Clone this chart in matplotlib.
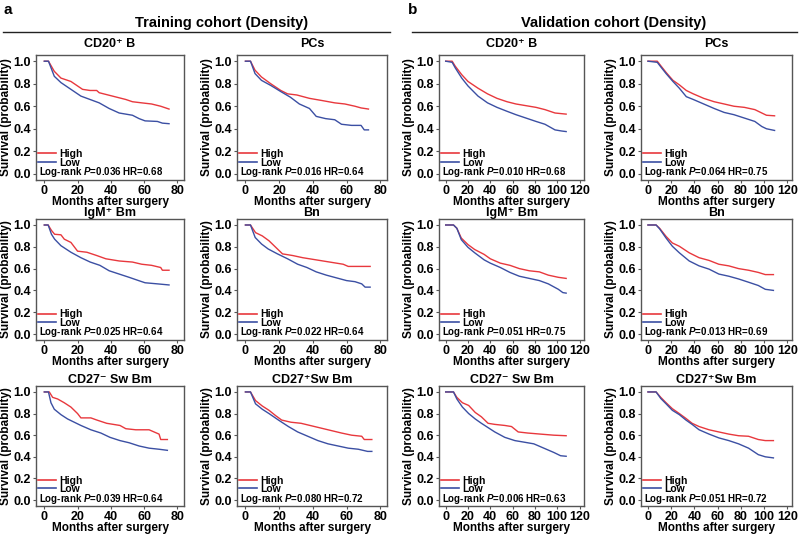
import matplotlib
matplotlib.use('Agg')
import matplotlib.pyplot as plt
from matplotlib.lines import Line2D

plt.rcParams['font.family'] = ['Liberation Sans', 'DejaVu Sans']
plt.rcParams['font.weight'] = 'bold'
plt.rcParams['mathtext.fontset'] = 'custom'
plt.rcParams['mathtext.rm'] = 'Liberation Sans:bold'
plt.rcParams['mathtext.it'] = 'Liberation Sans:italic:bold'
plt.rcParams['mathtext.bf'] = 'Liberation Sans:bold'

# ---------------- data ----------------
panel_titles = ["CD20\u207a B", "PCs", "IgM\u207a Bm", "Bn", "CD27\u207b Sw Bm", "CD27\u207aSw Bm"]
legend_labels = ["High", "Low"]
x_ticks_train = [0, 20, 40, 60, 80]
x_ticks_valid = [0, 20, 40, 60, 80, 100, 120]
y_ticks = [0.0, 0.2, 0.4, 0.6, 0.8, 1.0]

train_p = ["0.036", "0.016", "0.025", "0.022", "0.039", "0.080"]
train_hr = ["0.68", "0.64", "0.64", "0.64", "0.64", "0.72"]
valid_p = ["0.010", "0.064", "0.051", "0.013", "0.006", "0.051"]
valid_hr = ["0.68", "0.75", "0.75", "0.69", "0.63", "0.72"]

# Training cohort curves
tr_cd20_high_t = [0, 2.5, 6, 10, 16, 23, 27.5, 31.5, 33, 41, 49, 53, 58.6, 64.5, 70, 75]
tr_cd20_high_s = [1.0, 1.0, 0.91, 0.85, 0.82, 0.75, 0.74, 0.74, 0.72, 0.69, 0.66, 0.64, 0.63, 0.62, 0.60, 0.575]
tr_cd20_low_t = [0, 2.5, 6, 10, 16, 22, 27.5, 33, 39, 45, 53, 57, 60.6, 68, 71, 75]
tr_cd20_low_s = [1.0, 1.0, 0.866, 0.81, 0.75, 0.69, 0.66, 0.63, 0.58, 0.54, 0.52, 0.49, 0.47, 0.465, 0.45, 0.445]

tr_pcs_high_t = [0, 3, 5.7, 9.5, 15, 21, 25, 30.5, 38, 45.7, 53, 59, 65, 68.6, 73]
tr_pcs_high_s = [1.0, 1.0, 0.92, 0.86, 0.80, 0.74, 0.71, 0.70, 0.67, 0.65, 0.63, 0.62, 0.60, 0.585, 0.575]
tr_pcs_low_t = [0, 3, 5.7, 9.5, 15, 21, 26.7, 32, 38, 42, 47.6, 53, 57, 63, 68.6, 70.5, 73]
tr_pcs_low_s = [1.0, 1.0, 0.89, 0.83, 0.785, 0.73, 0.68, 0.62, 0.58, 0.51, 0.49, 0.48, 0.44, 0.43, 0.43, 0.39, 0.39]

tr_igm_high_t = [0, 2.3, 4.3, 6.2, 10, 12, 16, 20, 25.6, 31.5, 37, 45, 53, 58.6, 64.5, 70, 71, 75]
tr_igm_high_s = [1.0, 1.0, 0.95, 0.915, 0.91, 0.87, 0.84, 0.76, 0.75, 0.72, 0.69, 0.67, 0.66, 0.64, 0.63, 0.61, 0.585, 0.585]
tr_igm_low_t = [0, 2.3, 4.3, 6.2, 10, 16, 22, 27.6, 33.4, 39, 45, 51, 56.7, 60.6, 68, 75]
tr_igm_low_s = [1.0, 1.0, 0.915, 0.87, 0.81, 0.75, 0.70, 0.66, 0.63, 0.58, 0.55, 0.52, 0.49, 0.47, 0.46, 0.45]

tr_bn_high_t = [0, 3, 6, 10, 14, 18, 22, 28, 34, 42, 50, 58, 61, 74]
tr_bn_high_s = [1.0, 1.0, 0.93, 0.90, 0.855, 0.795, 0.735, 0.72, 0.70, 0.68, 0.66, 0.64, 0.62, 0.62]
tr_bn_low_t = [0, 3, 5.8, 9.6, 13.5, 19, 25, 31, 36.5, 42, 48, 54, 60, 65, 69, 71, 74]
tr_bn_low_s = [1.0, 1.0, 0.885, 0.825, 0.78, 0.735, 0.69, 0.64, 0.61, 0.57, 0.54, 0.515, 0.49, 0.48, 0.46, 0.43, 0.43]

tr_cd27n_high_t = [0, 3, 5, 8, 12, 16, 20, 22, 28, 31.6, 37.5, 45.5, 49, 55, 63, 66, 69, 70, 74]
tr_cd27n_high_s = [1.0, 1.0, 0.95, 0.935, 0.90, 0.86, 0.80, 0.76, 0.76, 0.74, 0.71, 0.69, 0.66, 0.65, 0.65, 0.63, 0.61, 0.56, 0.56]
tr_cd27n_low_t = [0, 2.5, 4, 6, 10, 14, 18, 22, 28, 34, 39.5, 45.5, 51, 57, 63, 69, 74]
tr_cd27n_low_s = [1.0, 1.0, 0.90, 0.84, 0.79, 0.75, 0.72, 0.69, 0.65, 0.62, 0.58, 0.55, 0.53, 0.50, 0.48, 0.47, 0.46]

tr_cd27p_high_t = [0, 3, 6, 10, 14, 18, 21.5, 27, 33, 41, 49, 57, 63, 69, 70.5, 75]
tr_cd27p_high_s = [1.0, 1.0, 0.92, 0.87, 0.83, 0.78, 0.74, 0.72, 0.71, 0.68, 0.65, 0.62, 0.60, 0.59, 0.56, 0.56]
tr_cd27p_low_t = [0, 3, 6, 10, 14, 19.6, 25.5, 31, 37, 43, 49, 55, 61, 67, 72.5, 75]
tr_cd27p_low_s = [1.0, 1.0, 0.89, 0.84, 0.80, 0.74, 0.68, 0.63, 0.59, 0.55, 0.52, 0.50, 0.48, 0.47, 0.45, 0.45]

# Validation cohort curves
va_cd20_high_t = [0, 5.8, 8.6, 14.4, 20, 29, 37.5, 46, 55, 63, 72, 81, 89, 98, 108]
va_cd20_high_s = [1.0, 1.0, 0.955, 0.88, 0.82, 0.76, 0.71, 0.67, 0.64, 0.62, 0.605, 0.59, 0.57, 0.54, 0.53]
va_cd20_low_t = [0, 5.8, 8.6, 14.4, 20, 29, 37.5, 46, 55, 63, 72, 81, 89, 98, 104, 108]
va_cd20_low_s = [1.0, 0.99, 0.94, 0.85, 0.78, 0.69, 0.63, 0.59, 0.555, 0.525, 0.495, 0.465, 0.44, 0.39, 0.38, 0.375]

va_pcs_high_t = [0, 8, 11, 15.6, 21.5, 27, 33, 39, 48, 57, 65.6, 74, 83, 92, 98, 102, 109]
va_pcs_high_s = [1.0, 1.0, 0.96, 0.90, 0.83, 0.79, 0.74, 0.71, 0.67, 0.64, 0.62, 0.60, 0.59, 0.57, 0.54, 0.52, 0.515]
va_pcs_low_t = [0, 8, 11, 15.6, 21.5, 27, 33, 39, 48, 57, 65.6, 74, 83, 92, 98, 102, 109]
va_pcs_low_s = [1.0, 0.99, 0.95, 0.89, 0.82, 0.76, 0.685, 0.66, 0.62, 0.58, 0.545, 0.525, 0.495, 0.465, 0.42, 0.40, 0.385]

va_igm_high_t = [0, 7, 10, 14, 20, 26, 34.5, 40, 49, 57.6, 66, 75, 84, 92, 101, 108]
va_igm_high_s = [1.0, 1.0, 0.97, 0.88, 0.82, 0.775, 0.73, 0.69, 0.65, 0.63, 0.60, 0.58, 0.57, 0.54, 0.52, 0.51]
va_igm_low_t = [0, 7, 10, 14, 20, 26, 34.5, 40, 49, 57.6, 66, 75, 84, 92, 101, 105, 108]
va_igm_low_s = [1.0, 1.0, 0.97, 0.865, 0.795, 0.745, 0.68, 0.65, 0.61, 0.565, 0.53, 0.51, 0.49, 0.46, 0.41, 0.38, 0.375]

va_bn_high_t = [0, 7, 10, 15.6, 21, 27, 35.5, 44, 52.6, 61, 69.6, 78, 86.6, 95, 101, 108]
va_bn_high_s = [1.0, 1.0, 0.97, 0.895, 0.835, 0.805, 0.745, 0.70, 0.675, 0.64, 0.625, 0.60, 0.585, 0.565, 0.545, 0.545]
va_bn_low_t = [0, 7, 10, 15.6, 21, 27, 35.5, 44, 52.6, 61, 69.6, 78, 86.6, 95, 101, 108]
va_bn_low_s = [1.0, 1.0, 0.965, 0.88, 0.805, 0.745, 0.67, 0.625, 0.595, 0.55, 0.53, 0.505, 0.475, 0.445, 0.41, 0.40]

va_cd27n_high_t = [0, 7, 10, 15, 20.6, 26.5, 32, 38, 44, 53, 59, 65, 73.5, 85, 97, 108]
va_cd27n_high_s = [1.0, 1.0, 0.95, 0.90, 0.875, 0.81, 0.77, 0.71, 0.70, 0.69, 0.68, 0.63, 0.62, 0.61, 0.60, 0.595]
va_cd27n_low_t = [0, 7, 10, 15, 20.6, 26.5, 32, 38, 44, 53, 62, 70.6, 79, 88, 97, 103, 108]
va_cd27n_low_s = [1.0, 1.0, 0.935, 0.86, 0.80, 0.75, 0.71, 0.67, 0.63, 0.58, 0.55, 0.535, 0.52, 0.48, 0.44, 0.41, 0.405]

va_cd27p_high_t = [0, 7, 11, 15.6, 21, 27, 32.7, 38, 44, 52.6, 61, 69.6, 78, 86.6, 95, 101, 108]
va_cd27p_high_s = [1.0, 1.0, 0.95, 0.90, 0.845, 0.80, 0.755, 0.71, 0.68, 0.65, 0.63, 0.61, 0.595, 0.59, 0.56, 0.55, 0.55]
va_cd27p_low_t = [0, 7, 11, 15.6, 21, 27, 32.7, 38, 44, 52.6, 61, 69.6, 78, 86.6, 95, 101, 108]
va_cd27p_low_s = [1.0, 1.0, 0.94, 0.89, 0.83, 0.79, 0.74, 0.70, 0.65, 0.61, 0.575, 0.55, 0.52, 0.48, 0.42, 0.40, 0.39]

# ---------------- styling / layout ----------------
RED = '#e8383d'
BLUE = '#3b4fa3'
FRAME = '#555555'
W, H = 800, 535

fig = plt.figure(figsize=(W / 100, H / 100), dpi=100)

def px_axes(x0, x1, y0, y1):
    return fig.add_axes([x0 / W, 1 - y1 / H, (x1 - x0) / W, (y1 - y0) / H])

cols_px = [(36, 184), (237, 387), (439, 584), (641, 792)]
rows_px = [(55, 180), (219, 340), (386, 506)]
title_pads = [5.5, 1.5, 2.5]

train_curves = [
    (tr_cd20_high_t, tr_cd20_high_s, tr_cd20_low_t, tr_cd20_low_s),
    (tr_pcs_high_t, tr_pcs_high_s, tr_pcs_low_t, tr_pcs_low_s),
    (tr_igm_high_t, tr_igm_high_s, tr_igm_low_t, tr_igm_low_s),
    (tr_bn_high_t, tr_bn_high_s, tr_bn_low_t, tr_bn_low_s),
    (tr_cd27n_high_t, tr_cd27n_high_s, tr_cd27n_low_t, tr_cd27n_low_s),
    (tr_cd27p_high_t, tr_cd27p_high_s, tr_cd27p_low_t, tr_cd27p_low_s),
]
valid_curves = [
    (va_cd20_high_t, va_cd20_high_s, va_cd20_low_t, va_cd20_low_s),
    (va_pcs_high_t, va_pcs_high_s, va_pcs_low_t, va_pcs_low_s),
    (va_igm_high_t, va_igm_high_s, va_igm_low_t, va_igm_low_s),
    (va_bn_high_t, va_bn_high_s, va_bn_low_t, va_bn_low_s),
    (va_cd27n_high_t, va_cd27n_high_s, va_cd27n_low_t, va_cd27n_low_s),
    (va_cd27p_high_t, va_cd27p_high_s, va_cd27p_low_t, va_cd27p_low_s),
]

def draw_panel(ax, curves, title, pval, hr, xticks, xlim, tpad):
    ht, hs, lt, ls = curves
    ax.plot(ht, hs, color=RED, lw=1.0, label=legend_labels[0])
    ax.plot(lt, ls, color=BLUE, lw=1.0, label=legend_labels[1])
    ax.set_xlim(*xlim)
    ax.set_ylim(-0.055, 1.055)
    ax.set_xticks(xticks)
    ax.set_xticklabels([str(v) for v in xticks])
    ax.set_yticks(y_ticks)
    ax.set_yticklabels([f"{v:.1f}" for v in y_ticks])
    ax.tick_params(direction='out', length=2.5, width=0.8, color=FRAME,
                   labelsize=9, pad=1.0)
    for lab in ax.get_xticklabels() + ax.get_yticklabels():
        lab.set_fontweight('bold')
    for sp in ax.spines.values():
        sp.set_color(FRAME)
        sp.set_linewidth(1.0)
    ax.set_title(title, fontsize=9, fontweight='bold', pad=tpad)
    ax.set_ylabel('Survival (probability)', fontsize=8.5, fontweight='bold', labelpad=1)
    ax.set_xlabel('Months after surgery', fontsize=8.5, fontweight='bold', labelpad=-0.8)
    leg = ax.legend(loc='lower left', bbox_to_anchor=(0.015, 0.1), frameon=False,
                    prop={'size': 7.5, 'weight': 'bold'}, handlelength=1.7,
                    handletextpad=0.3, labelspacing=-0.15, borderpad=0, borderaxespad=0)
    for h in leg.get_lines():
        h.set_linewidth(1.2)
    ax.text(0.02, 0.062, f"Log-rank $P$={pval} HR={hr}", transform=ax.transAxes,
            fontsize=7, fontweight='bold', ha='left', va='center')

for i in range(6):
    r, c = divmod(i, 2)
    y0, y1 = rows_px[r]
    # training
    x0, x1 = cols_px[c]
    ax = px_axes(x0, x1, y0, y1)
    draw_panel(ax, train_curves[i], panel_titles[i], train_p[i], train_hr[i],
               x_ticks_train, (-5, 84), title_pads[r])
    # validation
    x0, x1 = cols_px[c + 2]
    ax = px_axes(x0, x1, y0, y1)
    draw_panel(ax, valid_curves[i], panel_titles[i], valid_p[i], valid_hr[i],
               x_ticks_valid, (-6, 124), title_pads[r])

# headers
fig.text(8 / W, 1 - 10 / H, 'a', fontsize=11, fontweight='bold', ha='center', va='center')
fig.text(413 / W, 1 - 10 / H, 'b', fontsize=11, fontweight='bold', ha='center', va='center')
fig.text(222 / W, 1 - 23 / H, 'Training cohort (Density)', fontsize=10.5,
         fontweight='bold', ha='center', va='center')
fig.text(614 / W, 1 - 23 / H, 'Validation cohort (Density)', fontsize=10.5,
         fontweight='bold', ha='center', va='center')
fig.add_artist(Line2D([3 / W, 390 / W], [1 - 32 / H, 1 - 32 / H], color='#222222', lw=1.0))
fig.add_artist(Line2D([412 / W, 797 / W], [1 - 32 / H, 1 - 32 / H], color='#222222', lw=1.0))

fig.savefig('out.png', dpi=100)
